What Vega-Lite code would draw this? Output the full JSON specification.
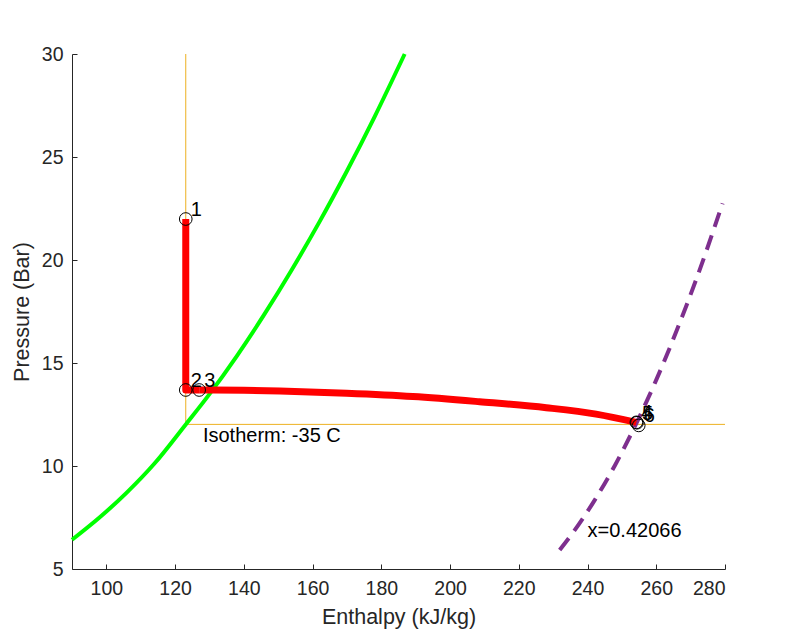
{
  "$schema": "https://vega.github.io/schema/vega-lite/v6.json",
  "autosize": "none",
  "width": 653,
  "height": 515,
  "padding": {"left": 72, "top": 54, "right": 77, "bottom": 68},
  "background": "white",
  "config": {
    "view": {"stroke": null},
    "font": "Liberation Sans",
    "axis": {
      "grid": false,
      "domainColor": "#262626",
      "tickColor": "#262626",
      "labelColor": "#262626",
      "titleColor": "#262626",
      "labelFont": "Liberation Sans",
      "titleFont": "Liberation Sans",
      "labelFontSize": 19.5,
      "titleFontSize": 21.5,
      "titleFontWeight": "normal",
      "tickSize": -5,
      "domainWidth": 1,
      "tickWidth": 1
    }
  },
  "datasets": {
    "iso": [
      {"o": 1, "h": 123.1, "p": 30},
      {"o": 2, "h": 123.1, "p": 12.02},
      {"o": 3, "h": 280, "p": 12.02}
    ],
    "liq": [
      {"h": 90, "p": 6.42},
      {"h": 98, "p": 7.5},
      {"h": 106, "p": 8.72},
      {"h": 114, "p": 10.12},
      {"h": 123.1, "p": 12.02},
      {"h": 130, "p": 13.49},
      {"h": 138, "p": 15.35},
      {"h": 146, "p": 17.37},
      {"h": 154, "p": 19.54},
      {"h": 162, "p": 21.85},
      {"h": 170, "p": 24.32},
      {"h": 178, "p": 26.94},
      {"h": 186.8, "p": 30}
    ],
    "qual": [
      {"h": 231.9, "p": 5.92},
      {"h": 236, "p": 6.82},
      {"h": 242, "p": 8.32},
      {"h": 248, "p": 10.04},
      {"h": 254.2, "p": 12.07},
      {"h": 260, "p": 14.18},
      {"h": 266, "p": 16.6},
      {"h": 272, "p": 19.23},
      {"h": 279.3, "p": 22.75}
    ],
    "pump": [
      {"o": 1, "h": 123.1, "p": 21.99},
      {"o": 2, "h": 123.1, "p": 13.69},
      {"o": 3, "h": 127.0, "p": 13.69}
    ],
    "evap": [
      {"h": 127.0, "p": 13.69},
      {"h": 131.1, "p": 13.69},
      {"h": 150.5, "p": 13.64},
      {"h": 169.9, "p": 13.53},
      {"h": 189.2, "p": 13.37},
      {"h": 208.6, "p": 13.12},
      {"h": 228.0, "p": 12.83},
      {"h": 242.5, "p": 12.52},
      {"h": 254.2, "p": 12.12}
    ],
    "states": [
      {"label": "1", "h": 123.1, "p": 21.99},
      {"label": "2", "h": 123.1, "p": 13.69},
      {"label": "3", "h": 127.0, "p": 13.69},
      {"label": "4", "h": 254.2, "p": 12.12},
      {"label": "5", "h": 254.4, "p": 12.1},
      {"label": "6", "h": 254.9, "p": 11.97}
    ],
    "notes": [
      {"text": "Isotherm: -35 C", "h": 128.1, "p": 11.48},
      {"text": "x=0.42066", "h": 240.0, "p": 6.85}
    ]
  },
  "layer": [
    {
      "data": {"name": "iso"},
      "mark": {"type": "line", "color": "#EDB120", "strokeWidth": 1},
      "encoding": {
        "x": {"field": "h", "type": "quantitative", "scale": {"domain": [90, 280], "nice": false, "zero": false},
          "axis": {"title": "Enthalpy (kJ/kg)", "values": [100, 120, 140, 160, 180, 200, 220, 240, 260, 280], "labelPadding": 15, "titlePadding": 9}},
        "y": {"field": "p", "type": "quantitative", "scale": {"domain": [5, 30], "nice": false, "zero": false},
          "axis": {"title": "Pressure (Bar)", "values": [5, 10, 15, 20, 25, 30], "labelPadding": 14, "titlePadding": 8}},
        "order": {"field": "o", "type": "quantitative"}
      }
    },
    {
      "data": {"name": "liq"},
      "mark": {"type": "line", "color": "#00FF00", "strokeWidth": 4, "interpolate": "monotone"},
      "encoding": {
        "x": {"field": "h", "type": "quantitative"},
        "y": {"field": "p", "type": "quantitative"}
      }
    },
    {
      "data": {"name": "qual"},
      "mark": {"type": "line", "color": "#7E2F8E", "strokeWidth": 4, "strokeDash": [15, 9], "interpolate": "monotone"},
      "encoding": {
        "x": {"field": "h", "type": "quantitative"},
        "y": {"field": "p", "type": "quantitative"}
      }
    },
    {
      "data": {"name": "pump"},
      "mark": {"type": "line", "color": "#FF0000", "strokeWidth": 7, "strokeJoin": "round"},
      "encoding": {
        "x": {"field": "h", "type": "quantitative"},
        "y": {"field": "p", "type": "quantitative"},
        "order": {"field": "o", "type": "quantitative"}
      }
    },
    {
      "data": {"name": "evap"},
      "mark": {"type": "line", "color": "#FF0000", "strokeWidth": 7, "strokeJoin": "round", "interpolate": "monotone"},
      "encoding": {
        "x": {"field": "h", "type": "quantitative"},
        "y": {"field": "p", "type": "quantitative"}
      }
    },
    {
      "data": {"name": "states"},
      "mark": {"type": "point", "shape": "circle", "filled": false, "stroke": "#000000", "strokeWidth": 1, "size": 160, "opacity": 1},
      "encoding": {
        "x": {"field": "h", "type": "quantitative"},
        "y": {"field": "p", "type": "quantitative"}
      }
    },
    {
      "data": {"name": "states"},
      "mark": {"type": "text", "align": "left", "baseline": "middle", "dx": 5, "dy": -9, "fontSize": 20, "color": "#000000"},
      "encoding": {
        "x": {"field": "h", "type": "quantitative"},
        "y": {"field": "p", "type": "quantitative"},
        "text": {"field": "label"}
      }
    },
    {
      "data": {"name": "notes"},
      "mark": {"type": "text", "align": "left", "baseline": "middle", "fontSize": 20, "color": "#000000"},
      "encoding": {
        "x": {"field": "h", "type": "quantitative"},
        "y": {"field": "p", "type": "quantitative"},
        "text": {"field": "text"}
      }
    }
  ]
}
